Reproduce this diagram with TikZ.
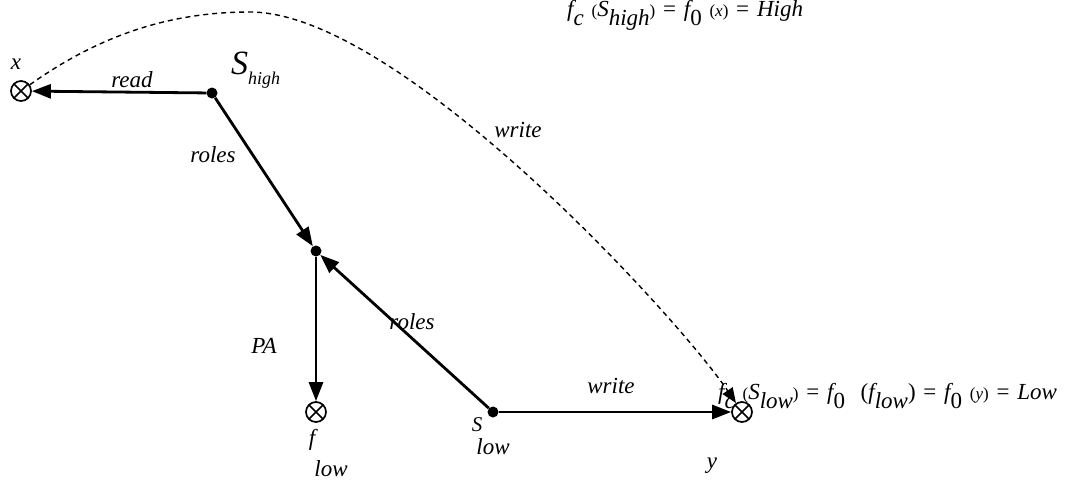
\documentclass[tikz,border=0pt]{standalone}
\usepackage{fontspec}
\setmainfont{Liberation Serif}
\usetikzlibrary{arrows.meta}
\newcommand\lsb[2][0.4em]{\raisebox{-#1}{#2}}
\newcommand\gp{\hspace{7.8pt}}
\newcommand\pr[1]{{\fontsize{17}{17}\selectfont\upshape #1}}
\begin{document}
\begin{tikzpicture}[x=1pt,y=-1pt,
  dotnode/.style={circle,fill=black,inner sep=0pt,minimum size=11pt},
  otimesnode/.style={circle,draw,line width=1.7pt,inner sep=0pt,minimum size=20pt,
    path picture={\draw[line width=1.7pt]
      (path picture bounding box.south west)--(path picture bounding box.north east)
      (path picture bounding box.north west)--(path picture bounding box.south east);}},
  conn/.style={line width=2.8pt,-{Triangle[length=19pt,width=14pt]}},
  dashconn/.style={line width=1.4pt,dash pattern=on 5pt off 4pt,-{Triangle[length=15pt,width=12pt]}},
  lbl/.style={font=\fontsize{23}{26}\selectfont\itshape,inner sep=0pt},
  formula/.style={font=\fontsize{23}{25}\selectfont\itshape,inner sep=0pt}
]
\useasboundingbox (0,0) rectangle (1074,496);
% nodes
\node[otimesnode] (xn) at (21,91) {};
\node[dotnode] (sh) at (212,93) {};
\node[dotnode] (mid) at (316,251) {};
\node[otimesnode] (fl) at (316,412) {};
\node[dotnode] (sl) at (493,412) {};
\node[otimesnode] (yn) at (742,412) {};
\coordinate (peak) at (250,12);
% connectors
\draw[conn] (sh) -- (xn);
\draw[conn] (sh) -- (mid);
\draw[conn] (mid) -- (fl);
\draw[conn] (sl) -- (mid);
\draw[conn] (sl) -- (yn);
\draw[dashconn] (xn) .. controls (100,35) and (170,12) .. (peak)
  .. controls (400,12) and (680,320) .. (yn);
% labels
\node[lbl] (xlab) at (16,64) {x};
\node[inner sep=0pt,anchor=west] (shlab) at (231,70) {\fontsize{34}{34}\selectfont\itshape S\lsb[10pt]{\fontsize{18}{18}\selectfont high}};
\node[lbl] (readlab) at (132,80) {read};
\node[lbl] (roles1) at (213,155) {roles};
\node[lbl] (palab) at (264,346) {PA};
\node[lbl] (roles2) at (412,322) {roles};
\node[lbl] (write1) at (611,386) {write};
\node[lbl] (write2) at (518,130) {write};
\node[lbl] (ylab) at (712,466) {y};
\node[lbl] (flf) at (312,440) {f};
\node[lbl] (fllow) at (331,469) {low};
\node[lbl,font=\fontsize{21}{22}\selectfont\itshape] (sls) at (477,425) {S};
\node[lbl] (sllow) at (493,447) {low};
\node[formula,anchor=west] (fhigh) at (567,15) {f\lsb{c}\gp\pr{(}S\lsb{high}\pr{)}\gp\upshape=\gp\itshape f\lsb{\upshape 0}\gp\pr{(\itshape x\upshape)}\gp\upshape=\gp\itshape High};
\node[formula,anchor=west] (flow) at (718,396) {f\lsb{c}\gp\pr{(}S\lsb{low}\pr{)}\gp\upshape=\gp\itshape f\lsb{\upshape 0}\gp\gp\upshape(\itshape f\lsb{low}\upshape)\gp=\gp\itshape f\lsb{\upshape 0}\gp\pr{(\itshape y\upshape)}\gp\upshape=\gp\itshape Low};
\end{tikzpicture}
\end{document}
